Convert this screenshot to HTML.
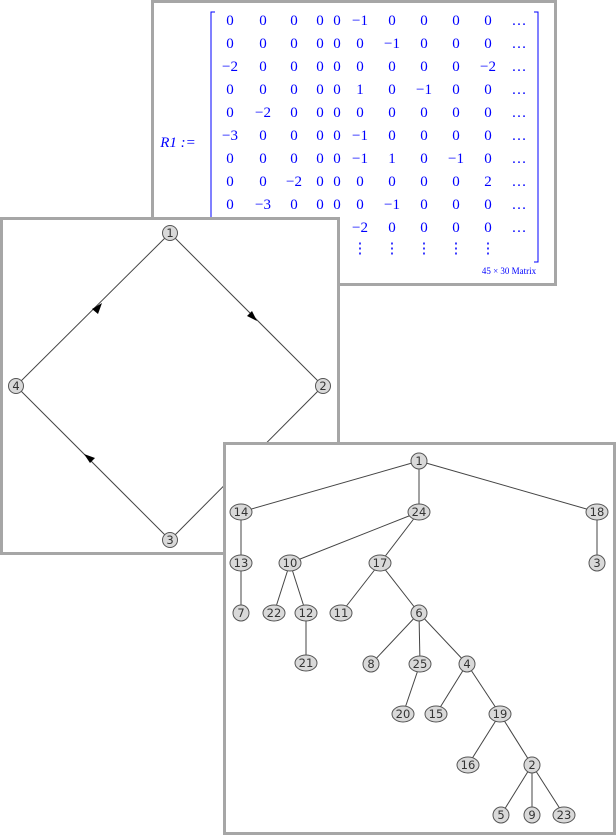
<!DOCTYPE html>
<html><head><meta charset="utf-8"><style>
html,body{margin:0;padding:0;background:#fff;width:616px;height:835px;overflow:hidden}
svg{display:block}
.m{font-family:"Liberation Serif",serif;font-size:15px;fill:#0000ff;text-anchor:middle}
.n{font-family:"DejaVu Sans",sans-serif;font-size:11.5px;fill:#333;text-anchor:middle}
</style></head><body>
<svg width="616" height="835" viewBox="0 0 616 835" xmlns="http://www.w3.org/2000/svg">
<!-- matrix panel -->
<rect x="152.5" y="1.5" width="403" height="283" fill="#fff" stroke="#a6a6a6" stroke-width="3"/>
<text x="178" y="147" class="m" font-style="italic">R1 :=</text>
<path d="M215 12 H211 V262 H215" fill="none" stroke="#0000ff" stroke-width="1"/>
<path d="M534 12 H538 V262 H534" fill="none" stroke="#0000ff" stroke-width="1"/>
<g class="m">
<text y="25"><tspan x="230">0</tspan><tspan x="263">0</tspan><tspan x="294">0</tspan><tspan x="320">0</tspan><tspan x="337">0</tspan><tspan x="360">−1</tspan><tspan x="392">0</tspan><tspan x="424">0</tspan><tspan x="456">0</tspan><tspan x="488">0</tspan><tspan x="519">…</tspan></text>
<text y="48"><tspan x="230">0</tspan><tspan x="263">0</tspan><tspan x="294">0</tspan><tspan x="320">0</tspan><tspan x="337">0</tspan><tspan x="360">0</tspan><tspan x="392">−1</tspan><tspan x="424">0</tspan><tspan x="456">0</tspan><tspan x="488">0</tspan><tspan x="519">…</tspan></text>
<text y="71"><tspan x="230">−2</tspan><tspan x="263">0</tspan><tspan x="294">0</tspan><tspan x="320">0</tspan><tspan x="337">0</tspan><tspan x="360">0</tspan><tspan x="392">0</tspan><tspan x="424">0</tspan><tspan x="456">0</tspan><tspan x="488">−2</tspan><tspan x="519">…</tspan></text>
<text y="94"><tspan x="230">0</tspan><tspan x="263">0</tspan><tspan x="294">0</tspan><tspan x="320">0</tspan><tspan x="337">0</tspan><tspan x="360">1</tspan><tspan x="392">0</tspan><tspan x="424">−1</tspan><tspan x="456">0</tspan><tspan x="488">0</tspan><tspan x="519">…</tspan></text>
<text y="117"><tspan x="230">0</tspan><tspan x="263">−2</tspan><tspan x="294">0</tspan><tspan x="320">0</tspan><tspan x="337">0</tspan><tspan x="360">0</tspan><tspan x="392">0</tspan><tspan x="424">0</tspan><tspan x="456">0</tspan><tspan x="488">0</tspan><tspan x="519">…</tspan></text>
<text y="140"><tspan x="230">−3</tspan><tspan x="263">0</tspan><tspan x="294">0</tspan><tspan x="320">0</tspan><tspan x="337">0</tspan><tspan x="360">−1</tspan><tspan x="392">0</tspan><tspan x="424">0</tspan><tspan x="456">0</tspan><tspan x="488">0</tspan><tspan x="519">…</tspan></text>
<text y="163"><tspan x="230">0</tspan><tspan x="263">0</tspan><tspan x="294">0</tspan><tspan x="320">0</tspan><tspan x="337">0</tspan><tspan x="360">−1</tspan><tspan x="392">1</tspan><tspan x="424">0</tspan><tspan x="456">−1</tspan><tspan x="488">0</tspan><tspan x="519">…</tspan></text>
<text y="186"><tspan x="230">0</tspan><tspan x="263">0</tspan><tspan x="294">−2</tspan><tspan x="320">0</tspan><tspan x="337">0</tspan><tspan x="360">0</tspan><tspan x="392">0</tspan><tspan x="424">0</tspan><tspan x="456">0</tspan><tspan x="488">2</tspan><tspan x="519">…</tspan></text>
<text y="209"><tspan x="230">0</tspan><tspan x="263">−3</tspan><tspan x="294">0</tspan><tspan x="320">0</tspan><tspan x="337">0</tspan><tspan x="360">0</tspan><tspan x="392">−1</tspan><tspan x="424">0</tspan><tspan x="456">0</tspan><tspan x="488">0</tspan><tspan x="519">…</tspan></text>
<text y="232"><tspan x="360">−2</tspan><tspan x="392">0</tspan><tspan x="424">0</tspan><tspan x="456">0</tspan><tspan x="488">0</tspan><tspan x="519">…</tspan></text>
<text y="253"><tspan x="360">⋮</tspan><tspan x="392">⋮</tspan><tspan x="424">⋮</tspan><tspan x="456">⋮</tspan><tspan x="488">⋮</tspan></text>
</g>
<text x="509" y="274" class="m" style="font-size:9px">45 × 30 Matrix</text>

<!-- digraph panel -->
<rect x="1.5" y="218.5" width="337" height="335" fill="#fff" stroke="#a6a6a6" stroke-width="3"/>
<g stroke="#444" stroke-width="1">
<line x1="170" y1="233" x2="323" y2="386"/>
<line x1="323" y1="386" x2="170" y2="540"/>
<line x1="170" y1="540" x2="16" y2="386"/>
<line x1="16" y1="386" x2="170" y2="233"/>
</g>
<g fill="#000">
<polygon points="257,321 247,316 252,311"/>
<polygon points="84,454 95,458 90,463"/>
<polygon points="102,303 92,309 98,314"/>
</g>
<g stroke="#555" fill="#d9d9d9">
<ellipse cx="170" cy="233" rx="7.5" ry="7.5"/><ellipse cx="323" cy="386" rx="7.5" ry="7.5"/>
<ellipse cx="170" cy="540" rx="7.5" ry="7.5"/><ellipse cx="16" cy="386" rx="7.5" ry="7.5"/>
</g>
<g class="n"><text x="170" y="237">1</text><text x="323" y="390">2</text><text x="170" y="544">3</text><text x="16" y="390">4</text></g>

<!-- tree panel -->
<rect x="224.5" y="443.5" width="390" height="390" fill="#fff" stroke="#a6a6a6" stroke-width="3"/>
<g stroke="#444" stroke-width="1">
<line x1="419" y1="461" x2="241" y2="512"/><line x1="419" y1="461" x2="419" y2="512"/><line x1="419" y1="461" x2="597" y2="512"/>
<line x1="241" y1="512" x2="241" y2="563"/><line x1="597" y1="512" x2="597" y2="563"/>
<line x1="419" y1="512" x2="290" y2="563"/><line x1="419" y1="512" x2="380" y2="563"/>
<line x1="241" y1="563" x2="241" y2="613"/>
<line x1="290" y1="563" x2="274" y2="613"/><line x1="290" y1="563" x2="306" y2="613"/>
<line x1="380" y1="563" x2="341" y2="613"/><line x1="380" y1="563" x2="419" y2="613"/>
<line x1="306" y1="613" x2="306" y2="663"/>
<line x1="419" y1="613" x2="371" y2="664"/><line x1="419" y1="613" x2="420" y2="664"/><line x1="419" y1="613" x2="467" y2="664"/>
<line x1="420" y1="664" x2="403" y2="714"/>
<line x1="467" y1="664" x2="436" y2="714"/><line x1="467" y1="664" x2="500" y2="714"/>
<line x1="500" y1="714" x2="468" y2="765"/><line x1="500" y1="714" x2="532" y2="765"/>
<line x1="532" y1="765" x2="501" y2="815"/><line x1="532" y1="765" x2="532" y2="815"/><line x1="532" y1="765" x2="564" y2="815"/>
</g>
<g stroke="#555" fill="#d9d9d9">
<ellipse cx="419" cy="461" rx="8" ry="8"/><ellipse cx="241" cy="512" rx="11" ry="8"/><ellipse cx="419" cy="512" rx="11" ry="8"/><ellipse cx="597" cy="512" rx="11" ry="8"/>
<ellipse cx="241" cy="563" rx="11" ry="8"/><ellipse cx="597" cy="563" rx="8" ry="8"/><ellipse cx="290" cy="563" rx="11" ry="8"/><ellipse cx="380" cy="563" rx="11" ry="8"/>
<ellipse cx="241" cy="613" rx="8" ry="8"/><ellipse cx="274" cy="613" rx="11" ry="8"/><ellipse cx="306" cy="613" rx="11" ry="8"/><ellipse cx="341" cy="613" rx="11" ry="8"/><ellipse cx="419" cy="613" rx="8" ry="8"/>
<ellipse cx="306" cy="663" rx="11" ry="8"/><ellipse cx="371" cy="664" rx="8" ry="8"/><ellipse cx="420" cy="664" rx="11" ry="8"/><ellipse cx="467" cy="664" rx="8" ry="8"/>
<ellipse cx="403" cy="714" rx="11" ry="8"/><ellipse cx="436" cy="714" rx="11" ry="8"/><ellipse cx="500" cy="714" rx="11" ry="8"/>
<ellipse cx="468" cy="765" rx="11" ry="8"/><ellipse cx="532" cy="765" rx="8" ry="8"/>
<ellipse cx="501" cy="815" rx="8" ry="8"/><ellipse cx="532" cy="815" rx="8" ry="8"/><ellipse cx="564" cy="815" rx="11" ry="8"/>
</g>
<g class="n">
<text x="419" y="465">1</text><text x="241" y="516">14</text><text x="419" y="516">24</text><text x="597" y="516">18</text>
<text x="241" y="567">13</text><text x="597" y="567">3</text><text x="290" y="567">10</text><text x="380" y="567">17</text>
<text x="241" y="617">7</text><text x="274" y="617">22</text><text x="306" y="617">12</text><text x="341" y="617">11</text><text x="419" y="617">6</text>
<text x="306" y="667">21</text><text x="371" y="668">8</text><text x="420" y="668">25</text><text x="467" y="668">4</text>
<text x="403" y="718">20</text><text x="436" y="718">15</text><text x="500" y="718">19</text>
<text x="468" y="769">16</text><text x="532" y="769">2</text>
<text x="501" y="819">5</text><text x="532" y="819">9</text><text x="564" y="819">23</text>
</g>
</svg>
</body></html>
